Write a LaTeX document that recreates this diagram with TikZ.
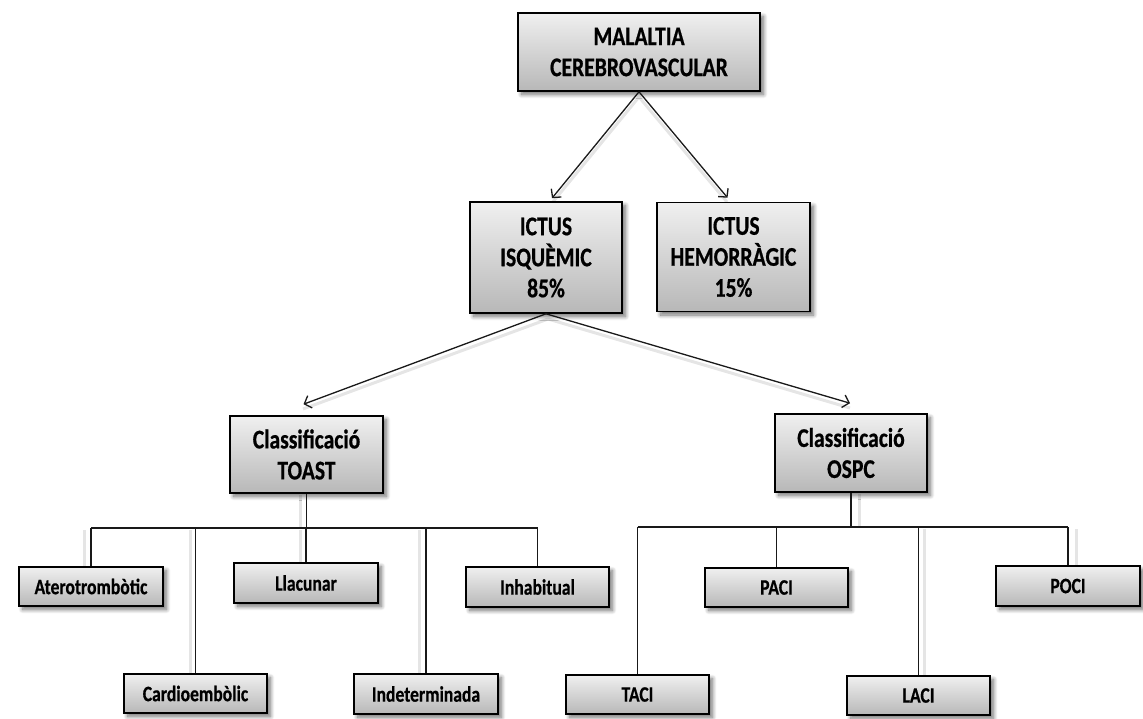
\documentclass[tikz,border=0pt]{standalone}
\usepackage{fontspec}
\setmainfont{Carlito}[FakeStretch=0.8, BoldFeatures={FakeBold=0.6}]
\usetikzlibrary{arrows.meta,shadows.blur}

\tikzset{
  box/.style={draw=black, line width=1.6pt, top color=black!6, bottom color=black!28,
    blur shadow={shadow xshift=3.5pt, shadow yshift=-3.5pt, shadow blur radius=4pt,
      shadow blur steps=10, shadow opacity=55},
    align=center, inner sep=0pt, font=\bfseries\fontsize{27}{31}\selectfont},
  leaf/.style={box, font=\bfseries\fontsize{22}{24}\selectfont},
  link/.style={draw=black!90, line width=1.3pt},
  arrowlink/.style={link, -{Straight Barb[length=6pt,width=13pt]}},
  linkshadow/.style={draw=black!10, line width=3pt},
}

\begin{document}
\begin{tikzpicture}[x=1pt, y=-1pt]
\useasboundingbox (0,0) rectangle (1143,718);

% bus levels under the two classifications
\coordinate (tbus) at (306,528);
\coordinate (obus) at (852,527);

% soft shadows of the connectors
\begin{scope}[linkshadow]
  \draw[transform canvas={xshift=-6pt}] (306,495) -- (306,528);
  \foreach \x/\yb in {90/567, 196/674, 306/563, 425/674} {
    \draw[transform canvas={xshift=-6pt}] (\x,530) -- (\x,\yb);
  }
  \draw[transform canvas={xshift=7pt}] (852,494) -- (852,527);
  \foreach \x/\yb in {917/676, 1069/566} {
    \draw[transform canvas={xshift=7pt}] (\x,529) -- (\x,\yb);
  }
  \draw[transform canvas={yshift=-4pt}] (639,93) -- (552,199);
  \draw[transform canvas={yshift=-4pt}] (639,93) -- (727,198);
  \draw[transform canvas={yshift=-4pt}] (548,315) -- (303,405);
  \draw[transform canvas={yshift=-4pt}] (548,315) -- (850,404);
\end{scope}

% main boxes
\node[box, minimum width=242pt, minimum height=78pt] (top) at (639,52)
  {MALALTIA\\CEREBROVASCULAR};
\node[box, minimum width=152pt, minimum height=111pt] (isq) at (546,257.5)
  {ICTUS\\ISQUÈMIC\\85\%};
\node[box, minimum width=153pt, minimum height=109pt] (hem) at (733.5,257)
  {ICTUS\\HEMORRÀGIC\\15\%};
\node[box, minimum width=153pt, minimum height=77pt] (toast) at (306.5,454.5)
  {Classificació\\TOAST};
\node[box, minimum width=152pt, minimum height=78pt] (ospc) at (851,453)
  {Classificació\\OSPC};

% TOAST subtypes
\node[leaf, minimum width=144pt, minimum height=39pt] (atero)  at (91,586.5)  {Aterotrombòtic};
\node[leaf, minimum width=143pt, minimum height=39pt] (cardio) at (195.5,693.5) {Cardioembòlic};
\node[leaf, minimum width=144pt, minimum height=40pt] (llac)   at (306,583)   {Llacunar};
\node[leaf, minimum width=144pt, minimum height=40pt] (indet)  at (426,694)   {Indeterminada};
\node[leaf, minimum width=143pt, minimum height=40pt] (inhab)  at (537.5,587) {Inhabitual};

% OSPC subtypes
\node[leaf, minimum width=143pt, minimum height=39pt] (taci) at (637.5,694.5) {TACI};
\node[leaf, minimum width=143pt, minimum height=39pt] (paci) at (776.5,587.5) {PACI};
\node[leaf, minimum width=143pt, minimum height=39pt] (laci) at (918.5,695.5) {LACI};
\node[leaf, minimum width=144pt, minimum height=40pt] (poci) at (1068,586)    {POCI};

% arrows
\draw[arrowlink] (top.south) -- ([shift={(6,-3)}]isq.north);
\draw[arrowlink] (top.south) -- ([shift={(-6,-4)}]hem.north);
\draw[arrowlink] (isq.south) -- ([shift={(-3,-11)}]toast.north);
\draw[arrowlink] (isq.south) -- ([shift={(-1,-10)}]ospc.north);

% TOAST tree
\draw[link] (toast.south) -- (toast.south |- tbus);
\draw[link] (atero.north |- tbus) -- (inhab.north |- tbus);
\foreach \n in {atero,cardio,llac,indet,inhab}
  \draw[link] (\n.north |- tbus) -- (\n.north);

% OSPC tree
\draw[link] (ospc.south) -- (ospc.south |- obus);
\draw[link] (taci.north |- obus) -- (poci.north |- obus);
\foreach \n in {taci,paci,laci,poci}
  \draw[link] (\n.north |- obus) -- (\n.north);
\end{tikzpicture}
\end{document}
